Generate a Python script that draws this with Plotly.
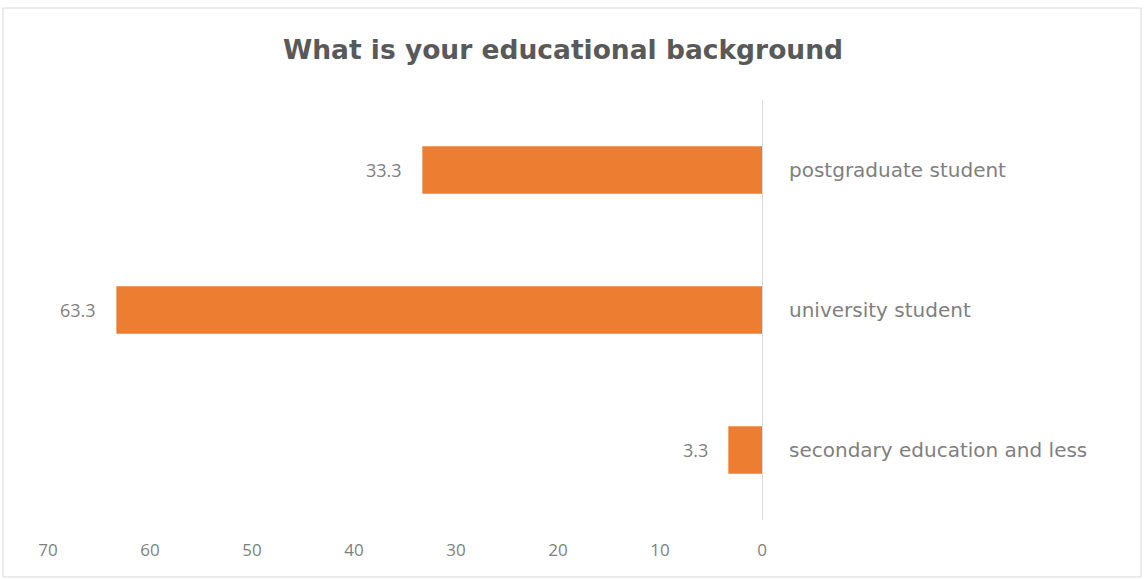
import plotly.graph_objects as go

categories = ["postgraduate student", "university student", "secondary education and less"]
values = [33.3, 63.3, 3.3]
tick_vals = [70, 60, 50, 40, 30, 20, 10, 0]

BAR = "#ED7D31"
TXT = "#7f7f7f"
FONT = "Open Sans, sans-serif"
WIDE = "DejaVu Sans, sans-serif"

fig = go.Figure()
fig.add_trace(go.Bar(
    y=categories, x=values, orientation="h",
    marker=dict(color=BAR, line=dict(width=0)),
    width=0.34, hoverinfo="skip",
))

annotations = [
    dict(x=v, y=c, xref="x", yref="y", text=f"{v:.1f}", showarrow=False,
         xanchor="right", xshift=-18, font=dict(size=18, color=TXT, family=FONT))
    for c, v in zip(categories, values)
]

L, R, T, B = 48, 382, 100, 59
W, H = 1144, 579
pw, ph = W - L - R, H - T - B

fig.update_layout(
    width=W, height=H,
    margin=dict(l=L, r=R, t=T, b=B),
    paper_bgcolor="white", plot_bgcolor="white",
    showlegend=False,
    title=dict(text="<b>What is your educational background</b>",
               x=563 / W, xanchor="center", y=1 - 50 / H, yanchor="middle",
               font=dict(size=26.5, color="#595959", family=WIDE)),
    xaxis=dict(range=[70, 0], tickvals=tick_vals, showgrid=False, zeroline=False,
               showline=False, ticks="", ticklabelstandoff=18,
               tickfont=dict(size=17, color=TXT, family=FONT)),
    yaxis=dict(categoryorder="array", categoryarray=categories[::-1],
               side="right", showgrid=False, zeroline=False,
               showline=True, linecolor="#d9d9d9", linewidth=1,
               ticks="", ticklabelstandoff=22,
               tickfont=dict(size=20, color=TXT, family=WIDE)),
    annotations=annotations,
    shapes=[dict(type="rect", xref="paper", yref="paper",
                 x0=(3 - L) / pw, x1=(1141 - L) / pw,
                 y0=(H - B - 577) / ph, y1=(H - B - 8) / ph,
                 line=dict(color="#d9d9d9", width=1), fillcolor="rgba(0,0,0,0)",
                 layer="below")],
)

fig.write_html("out.html")
